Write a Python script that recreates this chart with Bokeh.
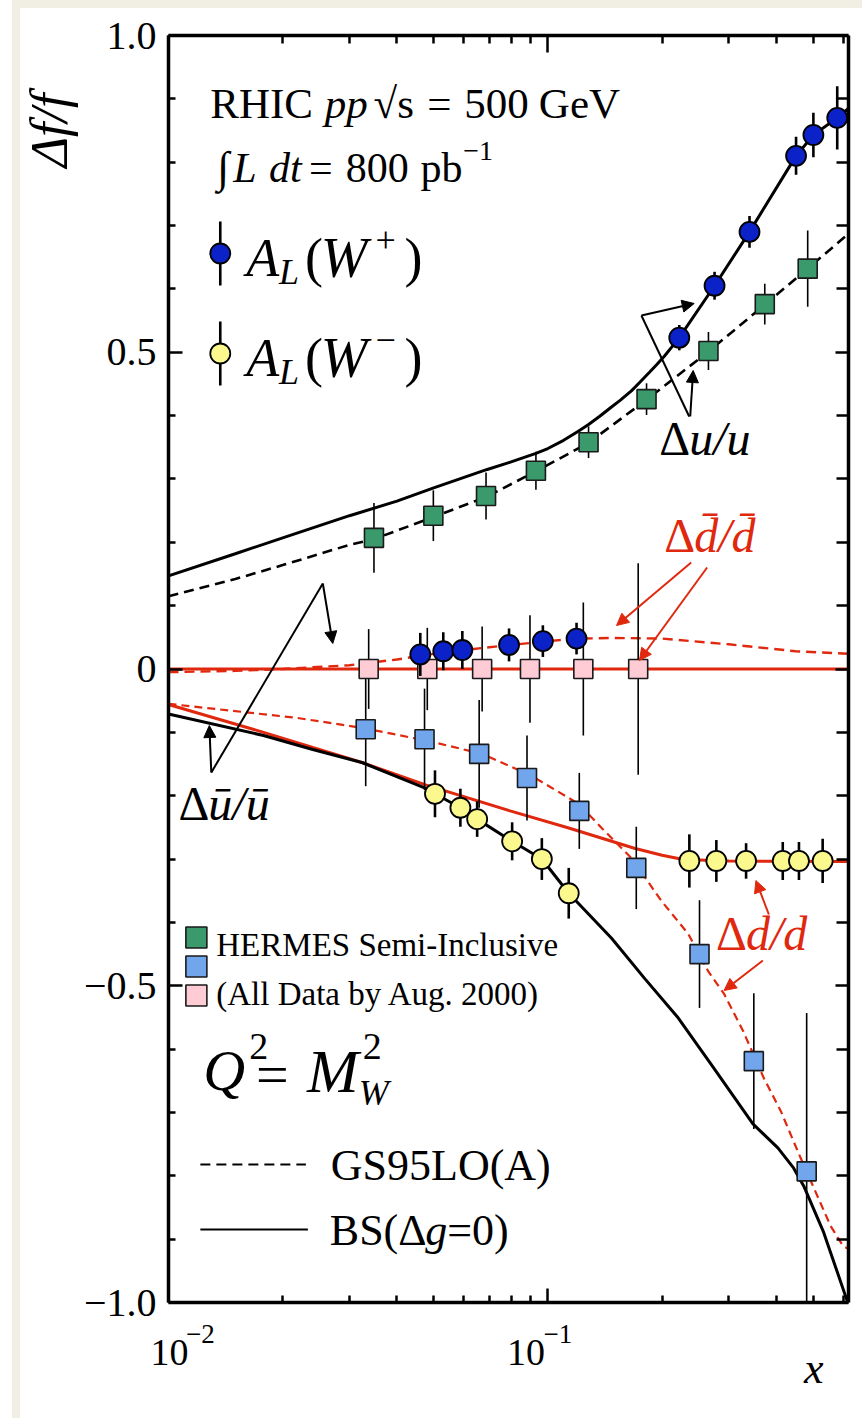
import math

from bokeh.core.properties import value
from bokeh.embed import file_html
from bokeh.layouts import column, row
from bokeh.models import Arrow, FixedTicker, Label, LinearAxis, LogAxis, NormalHead, Spacer
from bokeh.plotting import figure
from bokeh.resources import INLINE

# ---------------------------------------------------------------- data --
# Projected RHIC W-production asymmetries A_L (pp, sqrt(s)=500 GeV, 800 pb^-1)
wplus_x = [0.0461, 0.0530, 0.0595, 0.0790, 0.0970, 0.1190, 0.222, 0.275, 0.340, 0.451, 0.501, 0.579]
wplus_y = [0.023, 0.028, 0.030, 0.038, 0.044, 0.048, 0.523, 0.605, 0.690, 0.810, 0.843, 0.870]
wplus_err = [0.034, 0.030, 0.030, 0.026, 0.025, 0.025, 0.020, 0.022, 0.025, 0.030, 0.035, 0.050]

wminus_x = [0.0504, 0.0588, 0.0651, 0.0805, 0.0964, 0.1135, 0.236, 0.278, 0.333, 0.416, 0.459, 0.530]
wminus_y = [-0.197, -0.219, -0.237, -0.272, -0.300, -0.354, -0.303, -0.303, -0.303, -0.303, -0.303, -0.303]
wminus_err = [0.037, 0.030, 0.028, 0.030, 0.033, 0.040, 0.042, 0.033, 0.028, 0.030, 0.030, 0.035]

# HERMES semi-inclusive results (all data by Aug. 2000)
hermes_u_x = [0.0348, 0.0499, 0.0687, 0.0930, 0.128, 0.182, 0.265, 0.373, 0.484]
hermes_u_y = [0.207, 0.242, 0.273, 0.313, 0.358, 0.426, 0.502, 0.576, 0.632]
hermes_u_err = [0.055, 0.040, 0.037, 0.030, 0.025, 0.025, 0.030, 0.032, 0.060]

hermes_dbar_x = [0.0337, 0.0481, 0.0671, 0.0897, 0.124, 0.173]
hermes_dbar_y = [0.0, 0.0, 0.0, 0.0, 0.0, 0.0]
hermes_dbar_err = [0.063, 0.065, 0.067, 0.085, 0.105, 0.167]

hermes_d_x = [0.0331, 0.0473, 0.0659, 0.0881, 0.121, 0.171, 0.251, 0.349, 0.481]
hermes_d_y = [-0.095, -0.111, -0.134, -0.172, -0.224, -0.314, -0.450, -0.619, -0.793]
hermes_d_err = [0.090, 0.080, 0.085, 0.067, 0.060, 0.065, 0.085, 0.107, 0.250]

# Model curves at Q^2 = M_W^2
bs_u_x = [0.010, 0.015, 0.020, 0.030, 0.040, 0.050, 0.0692, 0.080, 0.0926, 0.100, 0.110, 0.120,
          0.128, 0.137, 0.146, 0.155, 0.166, 0.175, 0.185, 0.194, 0.203, 0.212, 0.222, 0.275,
          0.340, 0.451, 0.501, 0.579, 0.620]
bs_u_y = [0.147, 0.182, 0.207, 0.242, 0.265, 0.286, 0.315, 0.327, 0.340, 0.348, 0.361, 0.375,
          0.386, 0.399, 0.412, 0.424, 0.439, 0.453, 0.468, 0.481, 0.494, 0.508, 0.523, 0.605,
          0.690, 0.810, 0.843, 0.870, 0.885]

gs_u_x = [0.010, 0.015, 0.020, 0.030, 0.0348, 0.050, 0.069, 0.093, 0.128, 0.182, 0.265, 0.373, 0.484, 0.620]
gs_u_y = [0.115, 0.142, 0.164, 0.196, 0.205, 0.240, 0.272, 0.312, 0.357, 0.425, 0.501, 0.575, 0.632, 0.687]

bs_dbar_x = [0.010, 0.620]
bs_dbar_y = [0.0, 0.0]

gs_dbar_x = [0.010, 0.015, 0.020, 0.030, 0.040, 0.050, 0.060, 0.080, 0.100, 0.120, 0.150, 0.200,
             0.300, 0.450, 0.620]
gs_dbar_y = [-0.005, -0.003, 0.000, 0.006, 0.015, 0.024, 0.030, 0.038, 0.044, 0.048, 0.049, 0.048,
             0.039, 0.028, 0.024]

bs_d_x = [0.010, 0.0178, 0.024, 0.0325, 0.0476, 0.0795, 0.1135, 0.169, 0.200, 0.224, 0.260, 0.300, 0.620]
bs_d_y = [-0.056, -0.100, -0.124, -0.148, -0.183, -0.224, -0.251, -0.283, -0.294, -0.300, -0.302, -0.303, -0.304]

gs_d_x = [0.010, 0.0217, 0.0325, 0.0487, 0.0671, 0.0908, 0.1206, 0.1386, 0.169, 0.1818, 0.1991,
          0.2344, 0.2645, 0.2914, 0.3268, 0.371, 0.4112, 0.4638, 0.556, 0.600, 0.620]
gs_d_y = [-0.055, -0.077, -0.093, -0.114, -0.134, -0.169, -0.213, -0.251, -0.303, -0.332, -0.366,
          -0.418, -0.477, -0.513, -0.571, -0.646, -0.698, -0.772, -0.879, -0.911, -0.915]

bs_ubar_x = [0.010, 0.0178, 0.024, 0.0325, 0.0475, 0.0504, 0.0588, 0.0651, 0.0805, 0.0964, 0.1135,
             0.130, 0.1472, 0.1796, 0.2207, 0.2694, 0.3471, 0.4038, 0.4446, 0.4724, 0.533, 0.6164]
bs_ubar_y = [-0.071, -0.105, -0.127, -0.148, -0.188, -0.197, -0.219, -0.237, -0.272, -0.300, -0.354,
             -0.391, -0.425, -0.488, -0.551, -0.624, -0.718, -0.756, -0.788, -0.816, -0.889, -0.999]

x_ticks = [0.01, 0.1]
x_minor = [0.02, 0.03, 0.04, 0.05, 0.06, 0.07, 0.08, 0.09, 0.2, 0.3, 0.4, 0.5, 0.6]
x_tick_base = ["10", "10"]
x_tick_power = ["\u22122", "\u22121"]
y_ticks = [-1.0, -0.5, 0.0, 0.5, 1.0]
y_minor = [-0.9, -0.8, -0.7, -0.6, -0.4, -0.3, -0.2, -0.1, 0.1, 0.2, 0.3, 0.4, 0.6, 0.7, 0.8, 0.9]
y_tick_text = ["\u22121.0", "\u22120.5", "0", "0.5", "1.0"]

# ------------------------------------------------------------- styles --
X_LO, X_HI = 0.01, 0.62
SERIF = "Liberation Serif"
BLUE = "#0b22c8"
YELLOW = "#fbf98e"
GREEN = "#3a9a6b"
LBLUE = "#72a6ec"
PINK = "#ffcbd4"
RED = "#e0280e"
PAGE_BG = "#f1efe3"

# page-pixel frame of the plotting area
FL, FT, FR, FB = 165, 35, 848, 1302
PAD_X, OFF_X, OFF_Y = 12, 20, 8      # white margin, then the page border strips
SIDE_W = 60                          # column holding the y title
P_X = OFF_X + SIDE_W                 # where the main figure starts on the page
FIG_W, FIG_H = 862 - P_X, 1418 - OFF_Y


def gx(px):
    """page pixel column -> x value on the log axis"""
    return 10 ** (math.log10(X_LO) + (px - FL) / (FR - FL) * math.log10(X_HI / X_LO))


def gy(py):
    """page pixel row -> y value"""
    return 1.0 - 2.0 * (py - FT) / (FB - FT)


p = figure(width=FIG_W, height=FIG_H, x_axis_type="log", x_range=(X_LO, X_HI), y_range=(-1.0, 1.0),
           output_backend="svg", toolbar_location=None,
           min_border_left=FL - P_X, min_border_top=FT - OFF_Y,
           min_border_right=FIG_W - (FR - P_X), min_border_bottom=FIG_H - (FB - OFF_Y),
           background_fill_color="white", border_fill_color="white", outline_line_color=None)
p.grid.visible = False

top_axis = LogAxis()
right_axis = LinearAxis()
p.add_layout(top_axis, "above")
p.add_layout(right_axis, "right")

p.below[0].ticker = FixedTicker(ticks=x_ticks, minor_ticks=x_minor)
top_axis.ticker = FixedTicker(ticks=x_ticks, minor_ticks=x_minor)
p.left[0].ticker = FixedTicker(ticks=y_ticks, minor_ticks=y_minor)
right_axis.ticker = FixedTicker(ticks=y_ticks, minor_ticks=y_minor)

for ax, mj, mn in [(p.below[0], 14, 7), (top_axis, 17, 8), (p.left[0], 14, 7), (right_axis, 13, 12)]:
    ax.axis_line_width = 3.5
    ax.axis_line_color = "black"
    ax.major_tick_in, ax.major_tick_out = mj, 0
    ax.minor_tick_in, ax.minor_tick_out = mn, 0
    ax.major_tick_line_width = 2.5
    ax.minor_tick_line_width = 2.5
    ax.major_tick_line_color = "black"
    ax.minor_tick_line_color = "black"

for ax in (p.below[0], top_axis, right_axis):
    ax.major_label_text_font_size = "0px"
    ax.major_label_text_color = None
    ax.major_label_standoff = 0

yax = p.left[0]
yax.major_label_overrides = dict(zip(y_ticks, y_tick_text))
yax.major_label_text_font = SERIF
yax.major_label_text_font_size = "40px"
yax.major_label_text_color = "black"
yax.major_label_standoff = 12


def label_axis(where, texts, size, standoff, style="normal"):
    """a bare axis (no line, no ticks) below the frame, used only to place text"""
    ax = LogAxis(ticker=FixedTicker(ticks=where, minor_ticks=[]),
                 major_label_overrides=dict(zip(where, texts)),
                 axis_line_color=None, major_tick_line_color=None, minor_tick_line_color=None,
                 major_tick_in=0, major_tick_out=0, minor_tick_in=0, minor_tick_out=0,
                 major_label_text_font=SERIF, major_label_text_font_size=f"{size}px",
                 major_label_text_font_style=style, major_label_text_color="black",
                 major_label_standoff=standoff)
    p.add_layout(ax, "below")


# x tick labels 10^-2, 10^-1 (exponent row, then mantissa row), then the x title
label_axis([gx(197), gx(556)], x_tick_power, 27, 22)
label_axis([gx(166), gx(524)], x_tick_base, 38, -6)
label_axis([gx(813)], ["x"], 44, -24, style="italic")

# y title, in its own narrow column sharing the vertical range
side = figure(width=SIDE_W, height=FIG_H, x_range=(0, 1), y_range=p.y_range,
              output_backend="svg", toolbar_location=None,
              x_axis_location=None, y_axis_location=None,
              min_border_left=0, min_border_right=0,
              min_border_top=FT - OFF_Y, min_border_bottom=FIG_H - (FB - OFF_Y),
              background_fill_color="white", border_fill_color="white", outline_line_color=None)
side.grid.visible = False
side.text(x=[0.48], y=[gy(130)], text=["\u0394f/f"], angle=math.pi / 2,
          text_font=value(SERIF), text_font_size=value("52px"), text_font_style="italic",
          text_align="center", text_baseline="middle", text_color="black")

# ------------------------------------------------------------- curves --
dash = "10 6"
p.line(bs_u_x, bs_u_y, line_color="black", line_width=3)
p.line(gs_u_x, gs_u_y, line_color="black", line_width=2.6, line_dash=dash)
p.line(bs_dbar_x, bs_dbar_y, line_color=RED, line_width=3)
p.line(gs_dbar_x, gs_dbar_y, line_color=RED, line_width=2.4, line_dash=dash)
p.line(bs_d_x, bs_d_y, line_color=RED, line_width=3)
p.line(gs_d_x, gs_d_y, line_color=RED, line_width=2.2, line_dash="8 5")
p.line(bs_ubar_x, bs_ubar_y, line_color="black", line_width=3)


# --------------------------------------------------------- data points --
def err_bars(xs, ys, es, width):
    p.segment(x0=xs, y0=[y - e for y, e in zip(ys, es)], x1=xs, y1=[y + e for y, e in zip(ys, es)],
              line_color="black", line_width=width)


err_bars(hermes_u_x, hermes_u_y, hermes_u_err, 1.6)
err_bars(hermes_dbar_x, hermes_dbar_y, hermes_dbar_err, 1.6)
err_bars(hermes_d_x, hermes_d_y, hermes_d_err, 1.6)
p.scatter(hermes_u_x, hermes_u_y, marker="square", size=19, fill_color=GREEN, line_color="#1a1a1a", line_width=1.6)
p.scatter(hermes_dbar_x, hermes_dbar_y, marker="square", size=19, fill_color=PINK, line_color="#1a1a1a", line_width=1.6)
p.scatter(hermes_d_x, hermes_d_y, marker="square", size=19, fill_color=LBLUE, line_color="#1a1a1a", line_width=1.6)

err_bars(wplus_x, wplus_y, wplus_err, 2.6)
err_bars(wminus_x, wminus_y, wminus_err, 2.6)
p.scatter(wplus_x, wplus_y, marker="circle", size=20, fill_color=BLUE, line_color="black", line_width=1.8)
p.scatter(wminus_x, wminus_y, marker="circle", size=20, fill_color=YELLOW, line_color="black", line_width=1.8)


# --------------------------------------------------------- annotation --
def text(px, py, s, size, style="normal", color="black", align="left"):
    p.add_layout(Label(x=gx(px), y=gy(py), text=s, text_font=SERIF, text_font_size=f"{size}px",
                       text_font_style=style, text_color=color, text_align=align,
                       text_baseline="middle"))


def pointer(a, b, color="black", head=True):
    end = NormalHead(size=12, fill_color=color, line_color=color, line_width=1) if head else None
    p.add_layout(Arrow(x_start=gx(a[0]), y_start=gy(a[1]), x_end=gx(b[0]), y_end=gy(b[1]),
                       line_color=color, line_width=2, end=end))


# run conditions
text(207, 103, "RHIC", 43)
text(322, 103, "pp", 43, style="italic")
text(371, 103, "\u221as", 43)
text(425, 103, "=", 43)
text(462, 103, "500", 43)
text(537, 103, "GeV", 43)
text(214, 167, "\u222b", 44)
text(230, 167, "L", 42, style="italic")
text(266, 167, "dt", 42, style="italic")
text(306, 167, "=", 42)
text(343, 167, "800", 42)
text(418, 167, "pb", 42)
text(461, 150, "\u22121", 28)

# W asymmetry keys
for cy, fill, sign in [(253, BLUE, "+"), (353, YELLOW, "\u2212")]:
    p.segment(x0=[gx(217)], y0=[gy(cy - 32)], x1=[gx(217)], y1=[gy(cy + 32)], line_color="black", line_width=2.6)
    p.scatter([gx(217)], [gy(cy)], marker="circle", size=20, fill_color=fill, line_color="black", line_width=1.8)
    text(243, cy + 4, "A", 54, style="italic")
    text(276, cy + 18, "L", 36, style="italic")
    text(302, cy + 4, "(", 54)
    text(318, cy + 4, "W", 56, style="italic")
    text(373, cy - 14, sign, 36)
    text(402, cy + 4, ")", 54)

# HERMES keys
for cy, fill in [(937, GREEN), (966, LBLUE), (995, PINK)]:
    p.scatter([gx(193)], [gy(cy)], marker="square", size=21, fill_color=fill, line_color="#1a1a1a", line_width=1.6)
text(213, 944, "HERMES Semi-Inclusive", 33)
text(213, 993, "(All Data by Aug. 2000)", 33)

# scale
text(200, 1070, "Q", 58, style="italic")
text(246, 1046, "2", 38)
text(253, 1074, "=", 58)
text(304, 1070, "M", 62, style="italic")
text(360, 1046, "2", 38)
text(356, 1092, "W", 36, style="italic")

# model keys
p.line([gx(197), gx(303)], [gy(1164), gy(1164)], line_color="black", line_width=2.2, line_dash="10 6")
p.line([gx(197), gx(305)], [gy(1229), gy(1229)], line_color="black", line_width=2)
text(328, 1165, "GS95LO(A)", 44)
text(327, 1230, "BS(\u0394", 44)
text(423, 1230, "g", 44, style="italic")
text(445, 1230, "=0)", 44)

# curve labels with pointers
text(658, 438, "\u0394", 48)
text(688, 438, "u/u", 48, style="italic")
pointer((688, 416), (640, 315), head=False)
pointer((640, 315), (693, 303))
pointer((689, 416), (692, 370))

text(175, 803, "\u0394", 48)
text(205, 803, "\u016b/\u016b", 48, style="italic")
pointer((208, 772), (206, 725))
pointer((208, 772), (320, 583), head=False)
pointer((320, 583), (330, 643))

text(663, 535, "\u0394", 48, color=RED)
text(693, 535, "d\u0304/d\u0304", 48, style="italic", color=RED)
pointer((690, 562), (615, 625), color=RED)
pointer((706, 567), (638, 660), color=RED)

text(715, 933, "\u0394", 48, color=RED)
text(745, 933, "d/d", 48, style="italic", color=RED)
pointer((768, 914), (755, 880), color=RED)
pointer((762, 960), (723, 990), color=RED)

# ------------------------------------------------------------- page --
page = row(
    Spacer(width=PAD_X, height=1418),
    column(
        Spacer(width=862 - PAD_X, height=OFF_Y, styles={"background-color": PAGE_BG}),
        row(Spacer(width=OFF_X - PAD_X, height=FIG_H, styles={"background-color": PAGE_BG}), side, p),
    ),
)

open("out.html", "w").write(file_html(page, INLINE))
